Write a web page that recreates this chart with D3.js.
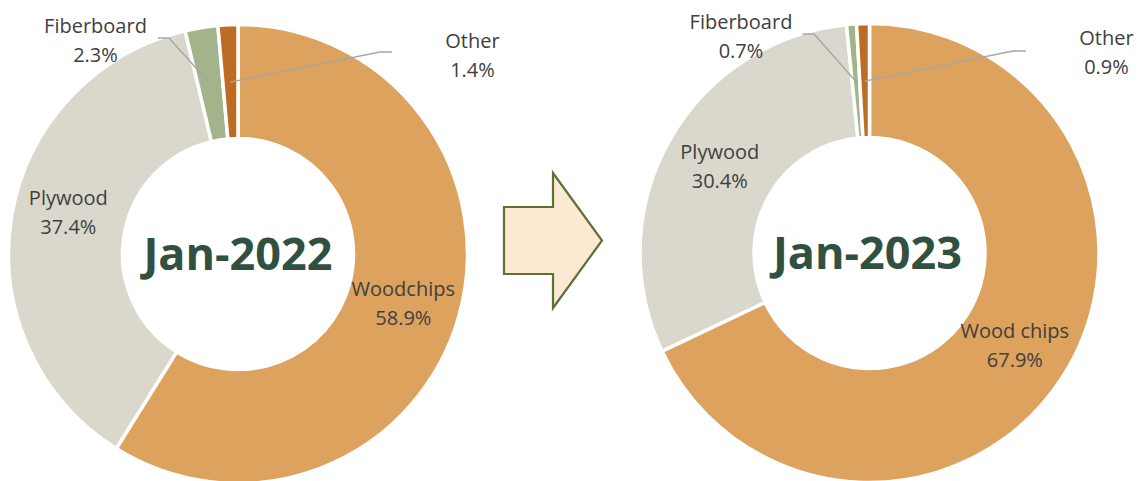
<!DOCTYPE html>
<html>
<head>
<meta charset="utf-8">
<script src="https://cdn.jsdelivr.net/npm/d3@7"></script>
<style>
  html, body { margin: 0; padding: 0; background: #fff; }
  svg { display: block; }
</style>
</head>
<body>
<svg id="chart" width="1142" height="481"></svg>
<script>
// ---- data ----
const categories2022 = ["Woodchips", "Plywood", "Fiberboard", "Other"];
const values2022 = [58.9, 37.4, 2.3, 1.4];
const categories2023 = ["Wood chips", "Plywood", "Fiberboard", "Other"];
const values2023 = [67.9, 30.4, 0.7, 0.9];
const titles = ["Jan-2022", "Jan-2023"];

// ---- styles / layout ----
const colors = ["#DCA25E", "#DAD8CC", "#A4B48A", "#BD6C26"];
const labelColor = "#404040";
const titleColor = "#31503F";
const leaderColor = "#A6A6A6";
const fontFamily = "'Open Sans', 'Noto Sans', sans-serif";
const labelSize = 20;

const charts = [
  { cx: 238, cy: 254, cats: categories2022, vals: values2022, title: titles[0], tx: 0,
    inside: [{dy: 2}, {dy: -14}],
    outside: {
      2: { lx: -142.5, ly: -221, path: [[-80, -216], [-69, -216]] },
      3: { lx: 234.5, ly: -206, path: [[154, -202], [142, -202]] }
    } },
  { cx: 869.5, cy: 253, cats: categories2023, vals: values2023, title: titles[1], tx: -2,
    inside: [{dy: 0}, {dy: -2}],
    outside: {
      2: { lx: -128.5, ly: -224, path: [[-67, -219], [-55.5, -219]] },
      3: { lx: 237, ly: -208, path: [[156.5, -202], [143.5, -202]] }
    } }
];

const outerR = 229.5, innerR = 115.5, labelR = 172;
const svg = d3.select("#chart");

const pie = d3.pie().sort(null).value(d => d.v);
const arc = d3.arc().innerRadius(innerR).outerRadius(outerR);
const midArc = d3.arc().innerRadius(labelR).outerRadius(labelR);

charts.forEach(ch => {
  const data = ch.cats.map((c, i) => ({ c, v: ch.vals[i], i }));
  const g = svg.append("g").attr("transform", `translate(${ch.cx},${ch.cy})`);
  const arcs = pie(data);

  g.selectAll("path.slice").data(arcs).join("path")
    .attr("class", "slice")
    .attr("d", arc)
    .attr("fill", d => colors[d.data.i])
    .attr("stroke", "#fff")
    .attr("stroke-width", 3.5)
    .attr("stroke-linejoin", "miter");

  arcs.forEach(a => {
    const i = a.data.i;
    if (i < 2) {
      const [x, y] = midArc.centroid(a);
      const off = ch.inside[i];
      const t = g.append("text")
        .attr("text-anchor", "middle")
        .attr("font-family", fontFamily)
        .attr("font-size", labelSize)
        .attr("fill", labelColor);
      t.append("tspan").attr("x", x).attr("y", y + off.dy - 7).text(a.data.c);
      t.append("tspan").attr("x", x).attr("y", y + off.dy + 21.5).text(a.data.v.toFixed(1) + "%");
    } else {
      const o = ch.outside[i];
      const [x, y] = midArc.centroid(a);
      const pts = o.path.concat([[x, y]]);
      g.append("path")
        .attr("d", d3.line()(pts))
        .attr("fill", "none")
        .attr("stroke", leaderColor)
        .attr("stroke-width", 1.3);
      const t = g.append("text")
        .attr("text-anchor", "middle")
        .attr("font-family", fontFamily)
        .attr("font-size", labelSize)
        .attr("fill", labelColor);
      t.append("tspan").attr("x", o.lx).attr("y", o.ly).text(a.data.c);
      t.append("tspan").attr("x", o.lx).attr("y", o.ly + 28.5).text(a.data.v.toFixed(1) + "%");
    }
  });

  g.append("text")
    .attr("x", ch.tx)
    .attr("y", 16)
    .attr("text-anchor", "middle")
    .attr("font-family", fontFamily)
    .attr("font-weight", "bold")
    .attr("font-size", 45)
    .attr("fill", titleColor)
    .text(ch.title);
});

// arrow between the two donuts
const arrow = { x0: 504, x1: 553, x2: 602, yMid: 240.5, bodyHalf: 33.5, headHalf: 67.5 };
const arrowPts = [
  [arrow.x0, arrow.yMid - arrow.bodyHalf],
  [arrow.x1, arrow.yMid - arrow.bodyHalf],
  [arrow.x1, arrow.yMid - arrow.headHalf],
  [arrow.x2, arrow.yMid],
  [arrow.x1, arrow.yMid + arrow.headHalf],
  [arrow.x1, arrow.yMid + arrow.bodyHalf],
  [arrow.x0, arrow.yMid + arrow.bodyHalf]
];
svg.append("path")
  .attr("d", d3.line()(arrowPts) + "Z")
  .attr("fill", "#FBE9D2")
  .attr("stroke", "#5E7035")
  .attr("stroke-width", 2.2)
  .attr("stroke-linejoin", "miter");
</script>
</body>
</html>
